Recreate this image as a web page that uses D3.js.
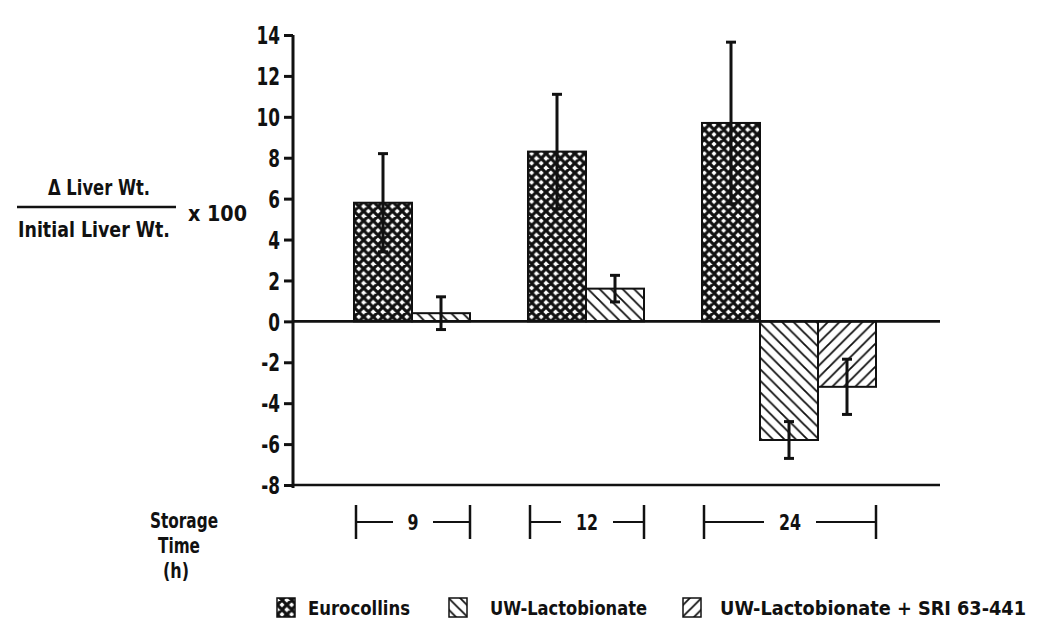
<!DOCTYPE html>
<html><head><meta charset="utf-8">
<script src="https://cdn.jsdelivr.net/npm/d3@7"></script>
<style>
body{margin:0;background:#fff;}
svg text{font-family:"DejaVu Sans Condensed","DejaVu Sans",sans-serif;font-weight:bold;fill:#111;}
</style></head>
<body>
<svg id="c" width="1050" height="626"></svg>
<script>
const groups = ["9", "12", "24"];
const series = ["Eurocollins", "UW-Lactobionate", "UW-Lactobionate + SRI 63-441"];
const euroVals = [5.8, 8.3, 9.7];
const euroErr = [2.4, 2.8, 3.95];
const uwVals = [0.4, 1.6, -5.8];
const uwErr = [0.8, 0.65, 0.9];
const sriVals = [null, null, -3.2];
const sriErr = [null, null, 1.35];
const yTicks = [-8, -6, -4, -2, 0, 2, 4, 6, 8, 10, 12, 14];

const svg = d3.select("#c");
const ink = "#111";

const y = d3.scaleLinear().domain([-8, 14]).range([485, 35]);
const x0 = d3.scaleBand().domain(groups).range([354, 876]).padding(0);
const x1 = d3.scaleBand().domain(series).range([0, x0.bandwidth()]).padding(0);

function txt(parent, x, yy, str, size, anchor, width) {
  const t = parent.append("text").attr("x", x).attr("y", yy).attr("font-size", size)
    .attr("text-anchor", anchor || "start").text(str);
  if (width) t.attr("textLength", width).attr("lengthAdjust", "spacingAndGlyphs");
  return t;
}

// patterns
const defs = svg.append("defs");
const pc = defs.append("pattern").attr("id", "p0").attr("patternUnits", "userSpaceOnUse")
  .attr("width", 9.6).attr("height", 9.6).attr("x", 354).attr("y", 0);
pc.append("rect").attr("width", 9.6).attr("height", 9.6).attr("fill", "#fff");
pc.append("path").attr("d", "M-2.4,2.4 L2.4,-2.4 M0,9.6 L9.6,0 M7.2,12 L12,7.2 M-2.4,7.2 L2.4,12 M0,0 L9.6,9.6 M7.2,-2.4 L12,2.4")
  .attr("stroke", ink).attr("stroke-width", 3.2);
const p1 = defs.append("pattern").attr("id", "p1").attr("patternUnits", "userSpaceOnUse")
  .attr("width", 11.5).attr("height", 11.5);
p1.append("rect").attr("width", 11.5).attr("height", 11.5).attr("fill", "#fff");
p1.append("path").attr("d", "M-2,-2 L13.5,13.5 M-2,9.5 L2,13.5 M9.5,-2 L13.5,2").attr("stroke", ink).attr("stroke-width", 1.8);
const p2 = defs.append("pattern").attr("id", "p2").attr("patternUnits", "userSpaceOnUse")
  .attr("width", 11.5).attr("height", 11.5);
p2.append("rect").attr("width", 11.5).attr("height", 11.5).attr("fill", "#fff");
p2.append("path").attr("d", "M-2,13.5 L13.5,-2 M-2,2 L2,-2 M9.5,13.5 L13.5,9.5").attr("stroke", ink).attr("stroke-width", 1.8);

const valsBySeries = [euroVals, uwVals, sriVals];
const errBySeries = [euroErr, uwErr, sriErr];
const data = [];
groups.forEach((g, gi) => series.forEach((s, si) => {
  const v = valsBySeries[si][gi];
  if (v !== null) data.push({g, s, si, v, e: errBySeries[si][gi]});
}));

// bars
svg.append("g").selectAll("rect").data(data).join("rect")
  .attr("x", d => x0(d.g) + x1(d.s))
  .attr("width", x1.bandwidth())
  .attr("y", d => y(Math.max(0, d.v)))
  .attr("height", d => Math.abs(y(d.v) - y(0)))
  .attr("fill", d => `url(#p${d.si})`)
  .attr("stroke", ink).attr("stroke-width", 2);

// zero line & bottom line
svg.append("line").attr("x1", 293).attr("x2", 940).attr("y1", y(0)).attr("y2", y(0))
  .attr("stroke", ink).attr("stroke-width", 2.6);
svg.append("line").attr("x1", 293).attr("x2", 940).attr("y1", y(-8)).attr("y2", y(-8))
  .attr("stroke", ink).attr("stroke-width", 2.6);

// error bars
const eb = svg.append("g").attr("stroke", ink).attr("stroke-width", 3);
data.forEach(d => {
  const cx = x0(d.g) + x1(d.s) + x1.bandwidth() / 2;
  eb.append("line").attr("x1", cx).attr("x2", cx).attr("y1", y(d.v + d.e)).attr("y2", y(d.v - d.e));
  [d.v + d.e, d.v - d.e].forEach(t => {
    eb.append("line").attr("x1", cx - 5).attr("x2", cx + 5).attr("y1", y(t)).attr("y2", y(t));
  });
});

// y axis
const ax = svg.append("g").attr("transform", "translate(293,0)")
  .call(d3.axisLeft(y).tickValues(yTicks).tickSize(9).tickPadding(5).tickFormat(d => d < 0 ? "-" + Math.abs(d) : d));
ax.select(".domain").attr("stroke", ink).attr("stroke-width", 3).attr("d", `M0,${y(14)}V${y(-8) + 3}`);
ax.selectAll(".tick line").attr("stroke", ink).attr("stroke-width", 3);
ax.selectAll(".tick text").attr("font-size", 24).attr("dy", "0.36em").style("fill", ink)
  .attr("x", 0).attr("transform", "translate(-13,0) scale(0.78,1)");

// y title
txt(svg, 99, 195, "Δ  Liver  Wt.", 21, "middle", 102);
svg.append("line").attr("x1", 17).attr("x2", 176).attr("y1", 207).attr("y2", 207).attr("stroke", ink).attr("stroke-width", 2.5);
txt(svg, 94, 237, "Initial  Liver  Wt.", 21, "middle", 152);
txt(svg, 188, 221, "x  100", 22, "start", 59);

// storage time label
txt(svg, 184, 528, "Storage", 21, "middle", 68);
txt(svg, 179, 553, "Time", 21, "middle", 42);
txt(svg, 176, 578, "(h)", 21, "middle", 26);

// group brackets
const br = svg.append("g");
groups.forEach((g, gi) => {
  const present = data.filter(d => d.g === g);
  const last = present[present.length - 1];
  const xa = x0(g) + 2;
  const xb = x0(g) + x1(last.s) + x1.bandwidth();
  const cx = (xa + xb) / 2;
  const yb = 522;
  br.append("line").attr("x1", xa).attr("x2", xa).attr("y1", 505).attr("y2", 539).attr("stroke", ink).attr("stroke-width", 2.5);
  br.append("line").attr("x1", xb).attr("x2", xb).attr("y1", 505).attr("y2", 539).attr("stroke", ink).attr("stroke-width", 2.5);
  const gap = g.length * 6 + 14;
  br.append("line").attr("x1", xa).attr("x2", cx - gap).attr("y1", yb).attr("y2", yb).attr("stroke", ink).attr("stroke-width", 2);
  br.append("line").attr("x1", cx + gap).attr("x2", xb).attr("y1", yb).attr("y2", yb).attr("stroke", ink).attr("stroke-width", 2);
  txt(br, cx, yb + 8, g, 22, "middle", g.length * 11);
});

// legend
const legX = [277, 449, 683];
const legTextX = [308, 490, 720];
const legW = [102, 157, 306];
const leg = svg.append("g");
series.forEach((s, si) => {
  leg.append("rect").attr("x", legX[si]).attr("y", 598).attr("width", 18).attr("height", 19)
    .attr("fill", `url(#p${si})`).attr("stroke", ink).attr("stroke-width", 1.5);
  txt(leg, legTextX[si], 615, si === 2 ? "UW-Lactobionate  +  SRI  63-441" : s, 20, "start", legW[si]);
});
</script>
</body></html>
